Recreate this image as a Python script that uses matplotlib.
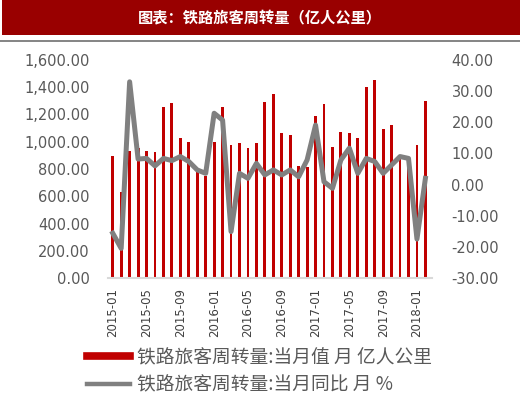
import matplotlib
matplotlib.use("Agg")
import matplotlib.pyplot as plt
from matplotlib.patches import Rectangle
from matplotlib.lines import Line2D
from matplotlib.ticker import FuncFormatter, MultipleLocator

plt.rcParams['font.family'] = ['Noto Sans CJK SC', 'DejaVu Sans']

months = [f"{y}-{m:02d}" for y in range(2015, 2019) for m in range(1, 13)][:38]
volume = [898, 634, 930, 956, 934, 925, 1255, 1282, 1025, 1001, 780, 749,
          1000, 1257, 976, 993, 952, 993, 1290, 1350, 1062, 1050, 822, 812,
          1189, 1275, 959, 1069, 1062, 1025, 1399, 1453, 1094, 1120, 880, 850,
          978, 1299]
yoy = [-15.6, -20.5, 33.0, 8.2, 8.4, 6.0, 8.4, 7.7, 9.0, 7.4, 4.7, 3.6,
       22.9, 20.7, -15.1, 3.6, 2.0, 6.8, 3.1, 4.7, 3.1, 4.7, 2.5, 7.9,
       19.1, 0.9, -1.2, 7.9, 11.7, 3.6, 8.4, 7.4, 3.6, 6.3, 9.0, 8.4,
       -17.5, 2.0]
tick_labels = ["2015-01", "2015-05", "2015-09", "2016-01", "2016-05",
               "2016-09", "2017-01", "2017-05", "2017-09", "2018-01"]
title = "图表：铁路旅客周转量（亿人公里）"
label_bar = "铁路旅客周转量:当月值 月 亿人公里"
label_line = "铁路旅客周转量:当月同比 月 %"

W, H = 520, 397
fig = plt.figure(figsize=(W / 100, H / 100), dpi=100)

# title bar
fig.patches.append(Rectangle((2 / W, 1 - 35 / H), 1 - 2 / W, 35 / H,
                             transform=fig.transFigure, facecolor='#990000',
                             edgecolor='none'))
fig.add_artist(Line2D([0, 1], [1 - 40.8 / H, 1 - 40.8 / H], transform=fig.transFigure,
                      color='#707070', lw=1.2))
fig.text(260 / W, 1 - 18 / H, title, color='white', fontsize=11, fontweight='bold',
         ha='center', va='center')

left, right = 108 / W, 432 / W
bottom, top = 1 - 278 / H, 1 - 60 / H
ax = fig.add_axes([left, bottom, right - left, top - bottom])
x = list(range(len(months)))
ax.bar(x, volume, width=0.34, color='#C00000', zorder=2)
ax.set_ylim(0, 1600)
ax.set_xlim(-0.56, 37.78)
ax.yaxis.set_major_locator(MultipleLocator(200))
ax.yaxis.set_major_formatter(FuncFormatter(lambda v, p: f"{v:,.2f}"))
tick_pos = [months.index(t) for t in tick_labels]
ax.set_xticks(tick_pos)
ax.set_xticklabels(tick_labels, rotation=90, fontsize=8.5, color='#404040',
                   family=['DejaVu Sans'])
for s in ['top', 'left', 'right']:
    ax.spines[s].set_visible(False)
ax.spines['bottom'].set_color('#d9d9d9')
ax.spines['bottom'].set_linewidth(1.5)
ax.tick_params(axis='x', length=0, pad=7)
ax.tick_params(axis='y', length=0, pad=13, labelsize=10.5, labelcolor='#595959')
for t in ax.get_yticklabels():
    t.set_family(['DejaVu Sans'])

ax2 = ax.twinx()
ax2.plot(x, yoy, color='#808080', lw=3.6, solid_joinstyle='round', zorder=3)
ax2.set_ylim(-30, 40)
ax2.yaxis.set_major_locator(MultipleLocator(10))
ax2.yaxis.set_major_formatter(FuncFormatter(lambda v, p: f"{v:.2f}"))
for s in ['top', 'left', 'right', 'bottom']:
    ax2.spines[s].set_visible(False)
ax2.tick_params(axis='y', length=0, pad=14, labelsize=10.5, labelcolor='#595959')
for t in ax2.get_yticklabels():
    t.set_family(['DejaVu Sans'])

handles = [Line2D([], [], color='#C00000', lw=5.5),
           Line2D([], [], color='#808080', lw=3.2)]
leg = fig.legend(handles, [label_bar, label_line], loc='upper left',
                 bbox_to_anchor=(87 / W, 1 - 347 / H), frameon=False,
                 fontsize=13.5, handlelength=2.3, handletextpad=0.36,
                 labelspacing=0.34, borderpad=0, borderaxespad=0)
for t in leg.get_texts():
    t.set_color('#595959')

fig.savefig("out.png", dpi=100)
